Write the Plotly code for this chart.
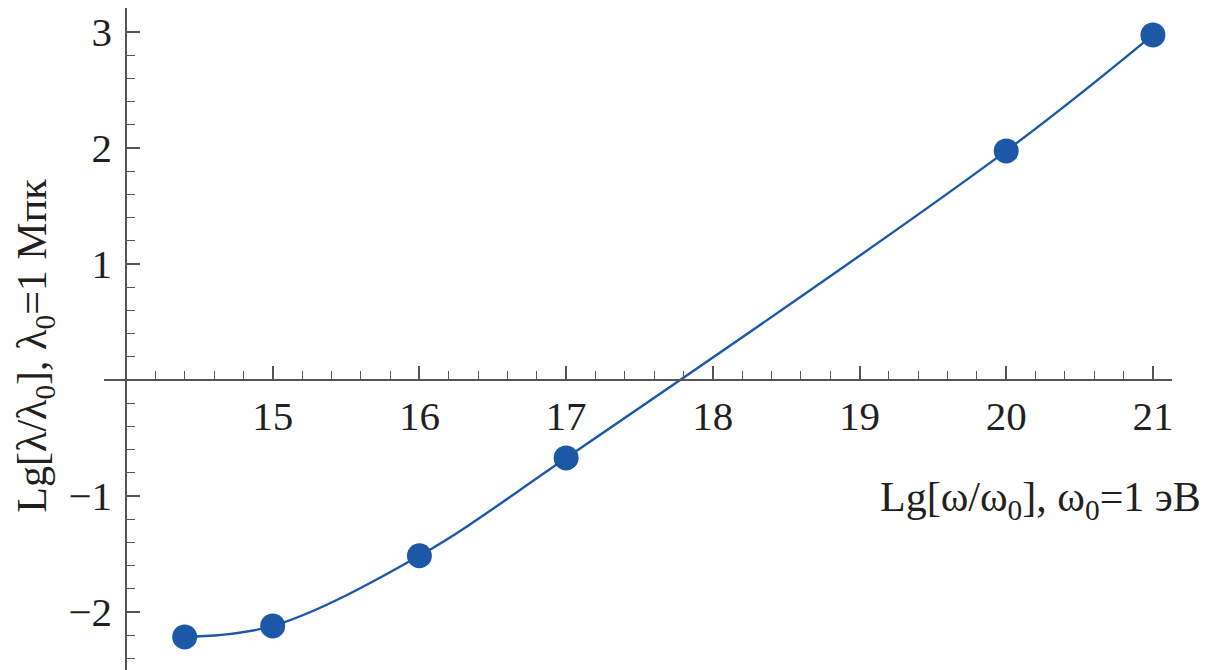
import plotly.graph_objects as go

# Data
lg_omega = [14.4, 15, 16, 17, 20, 21]
lg_lambda = [-2.215, -2.12, -1.515, -0.672, 1.975, 2.975]

x_ticks = [15, 16, 17, 18, 19, 20, 21]
y_ticks = [-2, -1, 1, 2, 3]
y_ticktext = ["\u22122", "\u22121", "1", "2", "3"]

x_range = [13.85, 21.13]
y_range = [-2.5, 3.207]
x_cross = 14.0
y_cross = 0.0

color = "#1c58a6"
axis_color = "#555555"
text_color = "#231f20"
font_family = "Liberation Serif, Times New Roman, serif"

fig = go.Figure()
fig.add_trace(go.Scatter(
    x=lg_omega, y=lg_lambda, mode="lines+markers",
    line=dict(color=color, width=2.4, shape="spline", smoothing=1.0),
    marker=dict(color=color, size=25),
    cliponaxis=False, showlegend=False,
))

ypos = (y_cross - y_range[0]) / (y_range[1] - y_range[0])
xpos = (x_cross - x_range[0]) / (x_range[1] - x_range[0])

minor = dict(tickmode="linear", tick0=0, dtick=0.2, ticks="inside",
             ticklen=8, tickwidth=1.2, tickcolor=axis_color, showgrid=False)

fig.update_layout(
    width=1199, height=662,
    margin=dict(l=96, r=35, t=0, b=0, autoexpand=False),
    paper_bgcolor="white", plot_bgcolor="white",
    font=dict(family=font_family, color=text_color, size=41),
    xaxis=dict(
        range=x_range, anchor="free", position=ypos, automargin=False,
        showgrid=False, zeroline=False, showline=True,
        linecolor=axis_color, linewidth=1.5,
        tickmode="array", tickvals=x_ticks, ticktext=[str(v) for v in x_ticks],
        ticks="inside", ticklen=13, tickwidth=1.5, tickcolor=axis_color,
        ticklabelstandoff=0, minor=minor,
        tickfont=dict(size=41, family=font_family, color=text_color),
    ),
    yaxis=dict(
        range=y_range, anchor="free", position=xpos, automargin=False,
        showgrid=False, zeroline=False, showline=True,
        linecolor=axis_color, linewidth=1.5,
        tickmode="array", tickvals=y_ticks, ticktext=y_ticktext,
        ticks="inside", ticklen=13, tickwidth=1.5, tickcolor=axis_color,
        ticklabelstandoff=5, minor=minor,
        tickfont=dict(size=41, family=font_family, color=text_color),
    ),
)

fig.add_annotation(
    text="Lg[ω/ω<sub>0</sub>], ω<sub>0</sub>=1 эВ",
    xref="paper", yref="paper", x=1.029, y=0.257,
    xanchor="right", yanchor="middle", showarrow=False,
    font=dict(size=42, family=font_family, color=text_color),
)
fig.add_annotation(
    text="Lg[λ/λ<sub>0</sub>], λ<sub>0</sub>=1 Мпк",
    xref="paper", yref="paper", x=-0.0646, y=0.49,
    xanchor="center", yanchor="middle", showarrow=False, textangle=-90,
    font=dict(size=42, family=font_family, color=text_color),
)

fig.write_html("out.html")
